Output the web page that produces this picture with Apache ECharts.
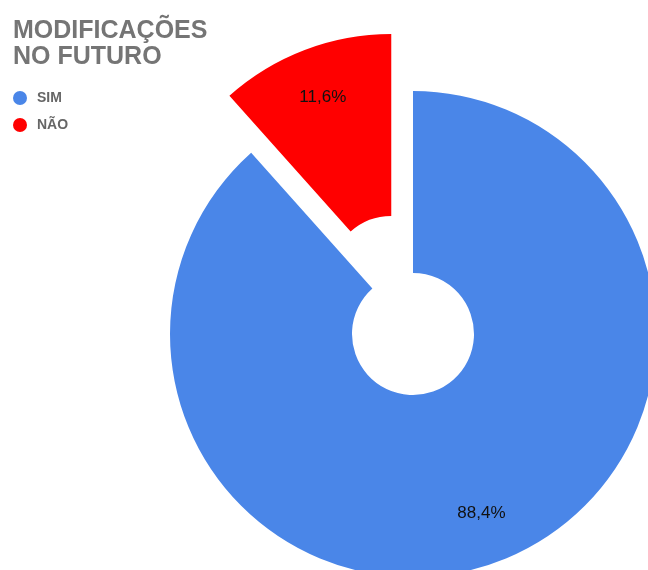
<!DOCTYPE html>
<html>
<head>
<meta charset="utf-8">
<script src="https://cdn.jsdelivr.net/npm/echarts@6/dist/echarts.min.js"></script>
<style>
	html, body { margin: 0; padding: 0; background: #fff; }
	#chart { width: 648px; height: 570px; }
</style>
</head>
<body>
<div id="chart"></div>
<script>
	// dados do gráfico
	var categories = ['SIM', 'NÃO'];
	var values = [88.4, 11.6];
	var colors = ['#4a86e8', '#ff0000'];
	var selectedIdx = 1;

	var chart = echarts.init(document.getElementById('chart'));

	function makeData(transparent) {
		var out = [];
		for (var i = 0; i < categories.length; i++) {
			out.push({
				name: categories[i],
				value: values[i],
				selected: i === selectedIdx,
				itemStyle: { color: transparent ? 'rgba(0,0,0,0)' : colors[i] }
			});
		}
		return out;
	}

	function pct(p) {
		return p.percent.toFixed(1).replace('.', ',') + '%';
	}

	var base = {
		type: 'pie',
		center: [413, 334],
		startAngle: 90,
		clockwise: true,
		selectedMode: 'single',
		selectedOffset: 61,
		avoidLabelOverlap: false,
		animation: false,
		labelLine: { show: false },
		emphasis: { disabled: true }
	};

	var option = {
		backgroundColor: '#fff',
		title: {
			text: 'MODIFICAÇÕES\nNO FUTURO',
			left: 8,
			top: 13,
			textStyle: {
				fontFamily: 'Liberation Sans, Arial, sans-serif',
				fontSize: 25,
				fontWeight: 'bold',
				lineHeight: 26,
				color: '#757575'
			}
		},
		legend: {
			orient: 'vertical',
			left: 8,
			top: 86,
			itemWidth: 14,
			itemHeight: 14,
			itemGap: 13,
			icon: 'circle',
			data: categories,
			selectedMode: false,
			textStyle: {
				fontFamily: 'Liberation Sans, Arial, sans-serif',
				fontSize: 14,
				fontWeight: 'bold',
				color: '#666',
				padding: [0, 0, 0, 5]
			}
		},
		series: [
			Object.assign({}, base, {
				name: 'pizza',
				radius: [61, 243],
				label: { show: false },
				data: makeData(false)
			}),
			Object.assign({}, base, {
				name: 'rotulos',
				radius: [135, 243],
				silent: true,
				label: {
					show: true,
					position: 'inside',
					formatter: pct,
					fontFamily: 'Liberation Sans, Arial, sans-serif',
					fontSize: 17,
					color: '#111'
				},
				data: makeData(true)
			})
		]
	};

	chart.setOption(option);
</script>
</body>
</html>
